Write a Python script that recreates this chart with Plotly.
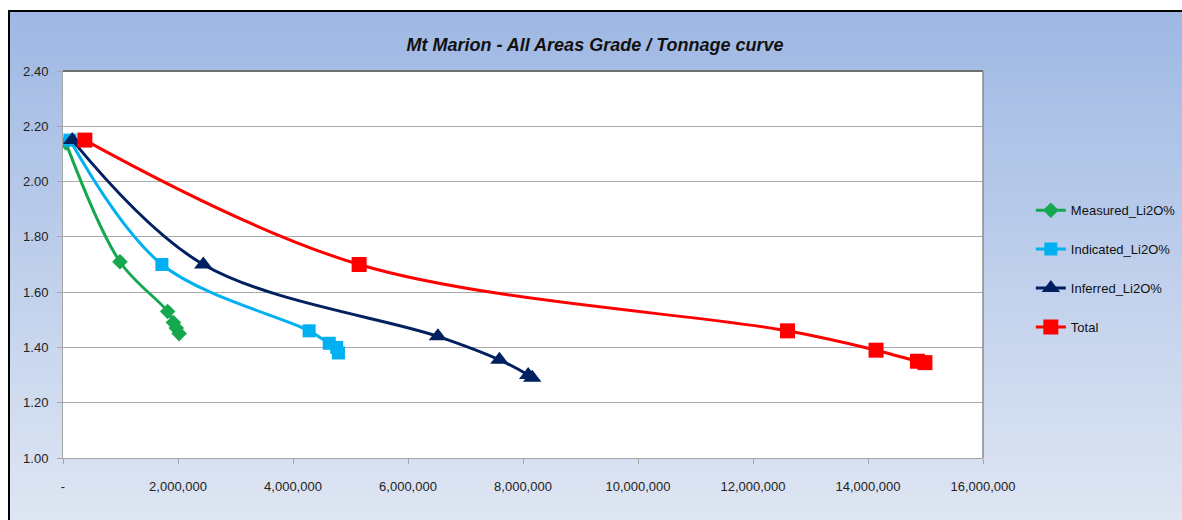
import plotly.graph_objects as go

# ---- data ----
measured_t = [50000, 990000, 1820000, 1920000, 1970000, 2020000]
measured_g = [2.14, 1.71, 1.53, 1.49, 1.47, 1.45]

indicated_t = [120000, 1720000, 4280000, 4630000, 4760000, 4790000]
indicated_g = [2.15, 1.70, 1.46, 1.415, 1.40, 1.38]

inferred_t = [160000, 2440000, 6520000, 7590000, 8090000, 8160000]
inferred_g = [2.15, 1.70, 1.44, 1.355, 1.30, 1.29]

total_t = [380000, 5150000, 12600000, 14140000, 14860000, 14990000]
total_g = [2.15, 1.70, 1.46, 1.39, 1.35, 1.345]

x_tickvals = [0, 2000000, 4000000, 6000000, 8000000, 10000000, 12000000, 14000000, 16000000]
x_ticktext = ["-", "2,000,000", "4,000,000", "6,000,000", "8,000,000",
              "10,000,000", "12,000,000", "14,000,000", "16,000,000"]
y_tickvals = [1.00, 1.20, 1.40, 1.60, 1.80, 2.00, 2.20, 2.40]

series = [
    ("Measured_Li2O%", measured_t, measured_g, "#16a84e", "diamond", 12),
    ("Indicated_Li2O%", indicated_t, indicated_g, "#00b0f0", "square", 13),
    ("Inferred_Li2O%", inferred_t, inferred_g, "#002060", "triangle-up", 16),
    ("Total", total_t, total_g, "#ff0000", "square", 15),
]

FONT = "Liberation Sans, Arial, sans-serif"

fig = go.Figure()
for i, (name, xs, ys, col, sym, sz) in enumerate(series):
    fig.add_trace(go.Scatter(
        x=xs, y=ys, name=name, mode="lines+markers",
        line=dict(color=col, width=3, shape="spline", smoothing=1.0),
        marker=dict(color=col, symbol=sym, size=sz, line=dict(width=0)),
        legendgroup=f"g{i}",
    ))

W, H = 1182, 520
ml, mr, mt, mb = 63, 199, 71, 62
pw, ph = W - ml - mr, H - mt - mb

def py_(sy):
    return (H - mb - sy) / ph

def px_(sx):
    return (sx - ml) / pw

shapes = []
# vertical background gradient
top_c = (157, 183, 227)
bot_c = (223, 230, 243)
n = 60
for k in range(n):
    y0s = k * H / n
    y1s = (k + 1) * H / n
    t = (k + 0.5) / n
    c = tuple(int(round(top_c[j] + (bot_c[j] - top_c[j]) * t)) for j in range(3))
    shapes.append(dict(type="rect", xref="paper", yref="paper", layer="below",
                       x0=px_(0), x1=px_(W),
                       y0=py_(y1s + 0.5), y1=py_(y0s),
                       fillcolor="rgb(%d,%d,%d)" % c, line=dict(width=0)))
# white above/left of the frame
shapes.append(dict(type="rect", xref="paper", yref="paper", layer="below",
                   x0=px_(0), x1=px_(W), y0=py_(10), y1=py_(0),
                   fillcolor="white", line=dict(width=0)))
shapes.append(dict(type="rect", xref="paper", yref="paper", layer="below",
                   x0=px_(0), x1=px_(8), y0=py_(H), y1=py_(0),
                   fillcolor="white", line=dict(width=0)))
# black frame lines
shapes.append(dict(type="line", xref="paper", yref="paper", layer="above",
                   x0=px_(8), x1=px_(W), y0=py_(11), y1=py_(11),
                   line=dict(color="black", width=2)))
shapes.append(dict(type="line", xref="paper", yref="paper", layer="above",
                   x0=px_(9), x1=px_(9), y0=py_(11), y1=py_(H),
                   line=dict(color="black", width=2)))
# white plot area
shapes.append(dict(type="rect", xref="paper", yref="paper", layer="below",
                   x0=0, x1=1, y0=0, y1=1, fillcolor="white", line=dict(width=0)))
# darker top/right border of plot area
shapes.append(dict(type="line", xref="paper", yref="paper", layer="above",
                   x0=0, x1=1, y0=1, y1=1, line=dict(color="#6f6f6f", width=2)))
shapes.append(dict(type="line", xref="paper", yref="paper", layer="above",
                   x0=1, x1=1, y0=0, y1=1, line=dict(color="#8a8a8a", width=1.5)))

fig.update_layout(
    width=W, height=H,
    margin=dict(l=ml, r=mr, t=mt, b=mb, pad=0, autoexpand=False),
    paper_bgcolor="rgb(190,206,235)",
    plot_bgcolor="white",
    shapes=shapes,
    title=dict(text="<b><i>Mt Marion - All Areas Grade / Tonnage curve</i></b>",
               x=595 / W, xref="container", xanchor="center",
               y=1 - 45 / H, yanchor="middle",
               font=dict(family=FONT, size=18, color="#111111")),
    font=dict(family=FONT, size=13, color="#222222"),
    showlegend=True,
    legend=dict(x=1.052, xanchor="left", y=0.679, yanchor="top",
                bgcolor="rgba(0,0,0,0)", tracegroupgap=19,
                font=dict(family=FONT, size=13, color="#111111"),
                itemwidth=30),
)

fig.update_xaxes(
    range=[0, 16000000], tickvals=x_tickvals, ticktext=x_ticktext,
    showgrid=False, zeroline=False,
    showline=True, linecolor="#a6a6a6", linewidth=1,
    ticks="outside", ticklen=5, tickcolor="#a6a6a6",
    ticklabelstandoff=11,
    tickfont=dict(family=FONT, size=13, color="#222222"),
)
fig.update_yaxes(
    range=[1.0, 2.4], tickvals=y_tickvals, tickformat=".2f",
    showgrid=True, gridcolor="#a9a9a9", gridwidth=1.2,
    zeroline=False,
    showline=True, linecolor="#a6a6a6", linewidth=1,
    ticks="outside", ticklen=5, tickcolor="#a6a6a6",
    ticklabelstandoff=6,
    tickfont=dict(family=FONT, size=13, color="#222222"),
)

fig.write_html(
    "out.html",
    config={"displayModeBar": False},
    post_script="document.body.style.margin='0';document.body.style.overflow='hidden';",
)
